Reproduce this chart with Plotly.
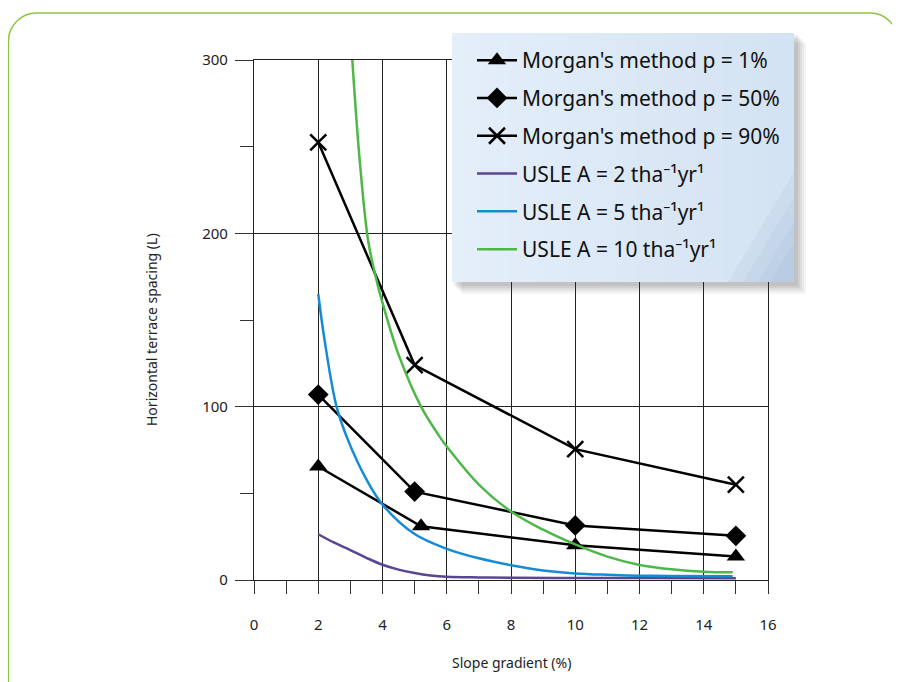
import plotly.graph_objects as go

# ---------------- data ----------------
morgan_x_p1 = [2, 5.2, 10, 15]
morgan_y_p1 = [65.5, 31, 20, 13.5]
morgan_x_p50 = [2, 5, 10, 15]
morgan_y_p50 = [107, 51, 31.5, 25.5]
morgan_x_p90 = [2, 5, 10, 15]
morgan_y_p90 = [252.5, 124, 75.5, 55]

usle2_x = [2, 2.5, 3, 3.5, 4, 4.5, 5, 5.5, 6, 7, 8, 10, 12, 15]
usle2_y = [26.4, 21.5, 17.3, 12.8, 8.8, 6.0, 4.0, 2.6, 1.9, 1.5, 1.3, 1.2, 1.1, 1.0]
usle5_x = [2, 2.2, 2.57, 2.92, 3.5, 4, 5, 6, 7, 8, 9, 10, 11, 12, 13, 14.9]
usle5_y = [165, 138, 100, 81, 58, 43.5, 26.5, 18, 12.5, 8.5, 5.5, 3.8, 3.0, 2.5, 2.3, 2.2]
usle10_x = [3.06, 3.3, 3.56, 3.84, 4.03, 4.5, 5.2, 5.84, 6, 7, 8, 9, 10, 11, 12, 13, 14, 14.9]
usle10_y = [300, 240, 195, 171, 158, 130, 100, 81, 77, 55, 39.5, 29, 20.5, 13.5, 8.7, 6.2, 4.8, 4.4]

legend_names = [
    "Morgan's method p = 1%",
    "Morgan's method p = 50%",
    "Morgan's method p = 90%",
    "USLE A = 2 tha\u207b\u00b9yr\u00b9",
    "USLE A = 5 tha\u207b\u00b9yr\u00b9",
    "USLE A = 10 tha\u207b\u00b9yr\u00b9",
]
x_ticks = [0, 2, 4, 6, 8, 10, 12, 14, 16]
y_ticks = [0, 100, 200, 300]

FONT = "Noto Sans"
W, H = 900, 682
OFF = 8  # page body margin
L, R, T, B = 254, 768, 60, 580  # plot area in screen pixels


def px(xp):
    return (xp - L) / (R - L)


def py(yp):
    return (B - yp) / (B - T)


fig = go.Figure()

fig.add_trace(go.Scatter(x=morgan_x_p1, y=morgan_y_p1, name=legend_names[0], legendgroup="a",
                         mode="lines+markers", line=dict(color="black", width=2.5),
                         marker=dict(symbol="triangle-up", size=16, color="black")))
fig.add_trace(go.Scatter(x=morgan_x_p50, y=morgan_y_p50, name=legend_names[1], legendgroup="b",
                         mode="lines+markers", line=dict(color="black", width=2.5),
                         marker=dict(symbol="diamond", size=16, color="black")))
fig.add_trace(go.Scatter(x=morgan_x_p90, y=morgan_y_p90, name=legend_names[2], legendgroup="c",
                         mode="lines+markers", line=dict(color="black", width=2.5),
                         marker=dict(symbol="x-thin-open", size=16, color="black",
                                     line=dict(color="black", width=2.5))))
fig.add_trace(go.Scatter(x=usle2_x, y=usle2_y, name=legend_names[3], legendgroup="d",
                         mode="lines", line=dict(color="#5a4592", width=2.5, shape="spline")))
fig.add_trace(go.Scatter(x=usle5_x, y=usle5_y, name=legend_names[4], legendgroup="e",
                         mode="lines", line=dict(color="#158bd3", width=2.5, shape="spline")))
fig.add_trace(go.Scatter(x=usle10_x, y=usle10_y, name=legend_names[5], legendgroup="f",
                         mode="lines", line=dict(color="#4db848", width=2.5, shape="spline"),
                         cliponaxis=True))

shapes = []
# rounded green frame
x0, x1, y0, r = 8.5, 898, 13, 28
k = 0.55 * r
path = (f"M {px(x0)},{py(720)} L {px(x0)},{py(y0 + r)} "
        f"C {px(x0)},{py(y0 + r - k)} {px(x0 + r - k)},{py(y0)} {px(x0 + r)},{py(y0)} "
        f"L {px(x1 - r)},{py(y0)} "
        f"C {px(x1 - r + k)},{py(y0)} {px(x1)},{py(y0 + r - k)} {px(x1)},{py(y0 + r)} "
        f"L {px(x1)},{py(720)}")
shapes.append(dict(type="path", path=path, xref="paper", yref="paper",
                   line=dict(color="#8dc63f", width=1.5), layer="below"))

# legend box: shadow + gradient
lx0, ly0, lx1, ly1 = 452, 33, 794, 282
for i, op in enumerate([0.05, 0.06, 0.07, 0.08, 0.09]):
    off = 12 - 2 * i
    shapes.append(dict(type="rect", xref="paper", yref="paper",
                       x0=px(lx0 + off - 2), x1=px(lx1 + off), y0=py(ly0 + off - 2), y1=py(ly1 + off),
                       fillcolor=f"rgba(60,60,60,{op})", line=dict(width=0), layer="above"))
n = 24
c0 = (228, 239, 250)
c1 = (212, 227, 243)
for i in range(n):
    t = i / (n - 1)
    col = tuple(int(c0[j] + (c1[j] - c0[j]) * t) for j in range(3))
    xa = lx0 + (lx1 - lx0) * i / n
    xb = lx0 + (lx1 - lx0) * (i + 1) / n + (1 if i < n - 1 else 0)
    shapes.append(dict(type="rect", xref="paper", yref="paper",
                       x0=px(xa), x1=px(xb), y0=py(ly0), y1=py(ly1),
                       fillcolor=f"rgb{col}", line=dict(width=0), layer="above"))
# soft darker bottom-right corner tint
for d in [110, 85, 60, 40]:
    shapes.append(dict(type="path", xref="paper", yref="paper",
                       path=f"M {px(lx1)},{py(ly1 - d)} L {px(lx1)},{py(ly1)} L {px(lx1 - d * 0.6)},{py(ly1)} Z",
                       fillcolor="rgba(150,175,205,0.12)", line=dict(width=0), layer="above"))

annotations = [
    dict(text="Slope gradient (%)", x=px(511), y=py(663), xref="paper", yref="paper",
         xanchor="center", yanchor="middle",
         showarrow=False, font=dict(family=FONT, size=14, color="#222")),
    dict(text="Horizontal terrace spacing (L)", x=px(152), y=py(330), xref="paper", yref="paper",
         xanchor="center", yanchor="middle",
         showarrow=False, textangle=-90, font=dict(family=FONT, size=14, color="#222")),
]

fig.update_layout(
    width=W, height=H,
    margin=dict(l=L - OFF, r=W - (R - OFF), t=T - OFF, b=H - (B - OFF)),
    paper_bgcolor="white", plot_bgcolor="white",
    font=dict(family=FONT, size=14, color="#222"),
    shapes=shapes, annotations=annotations,
    showlegend=True,
    legend=dict(x=px(lx0 + 20), y=py(ly0 + 7), xanchor="left", yanchor="top",
                bgcolor="rgba(0,0,0,0)", bordercolor="rgba(0,0,0,0)", borderwidth=0,
                font=dict(family=FONT, size=21, color="#111"),
                traceorder="grouped", tracegroupgap=7.5, itemwidth=40),
)

fig.update_xaxes(range=[0, 16], tickvals=x_ticks, ticktext=[str(v) for v in x_ticks],
                 showgrid=True, gridcolor="#222", gridwidth=1.2,
                 showline=True, linecolor="#222", linewidth=1.2, mirror=True,
                 ticks="outside", ticklen=13, tickcolor="#333", tickwidth=1.2,
                 ticklabelstandoff=18, zeroline=False,
                 minor=dict(dtick=1, tick0=0, ticks="outside", ticklen=13, tickcolor="#333",
                            tickwidth=1.2, showgrid=False),
                 tickfont=dict(family=FONT, size=15, color="#222"))
fig.update_yaxes(range=[0, 300], tickvals=y_ticks, ticktext=[str(v) for v in y_ticks],
                 showgrid=True, gridcolor="#222", gridwidth=1.2,
                 showline=True, linecolor="#222", linewidth=1.2, mirror=True,
                 ticks="outside", ticklen=18, tickcolor="#333", tickwidth=1.2,
                 ticklabelstandoff=4, zeroline=False,
                 minor=dict(dtick=50, tick0=0, ticks="outside", ticklen=13, tickcolor="#333",
                            tickwidth=1.2, showgrid=False),
                 tickfont=dict(family=FONT, size=15, color="#222"))

fig.write_html("out.html")
